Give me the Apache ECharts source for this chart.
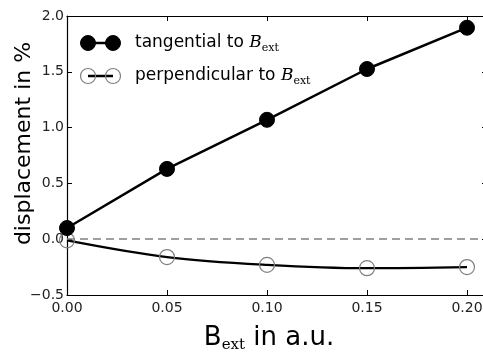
<!DOCTYPE html>
<html>
<head>
<meta charset="utf-8">
<script src="https://cdn.jsdelivr.net/npm/echarts@6/dist/echarts.min.js"></script>
<style>
  html, body { margin: 0; padding: 0; background: #fff; }
  #chart { width: 483px; height: 354px; }
</style>
</head>
<body>
<div id="chart"></div>
<script>
// Field strength (a.u.) and the measured displacement (%) in both directions
const bExt = [0.00, 0.05, 0.10, 0.15, 0.20];
const tangential = [0.10, 0.63, 1.07, 1.525, 1.895];
const perpendicular = [-0.01, -0.16, -0.23, -0.26, -0.25];
const xTicks = [0.00, 0.05, 0.10, 0.15, 0.20];
const yTicks = [-0.5, 0.0, 0.5, 1.0, 1.5, 2.0];

const SANS = 'DejaVu Sans';
const SERIF = 'DejaVu Serif';
const tickFont = { fontFamily: SANS, fontSize: 14, color: '#222' };

function pairs(ys) { return bExt.map((x, i) => [x, ys[i]]); }
function fmtY(v) { return (v < 0 ? '\u2212' : '') + Math.abs(v).toFixed(1); }

const chart = echarts.init(document.getElementById('chart'), null, { renderer: 'canvas' });

const inTicks = { show: true, inside: true, length: 5, lineStyle: { color: '#000', width: 1 } };
const spine = { show: true, onZero: false, lineStyle: { color: '#000', width: 1.2 } };

function legendRow(y, filled, parts) {
  const mk = (cx) => ({
    type: 'circle',
    shape: { cx: cx, cy: y, r: 7.5 },
    style: filled ? { fill: '#000', stroke: '#000', lineWidth: 1 }
                  : { fill: 'none', stroke: '#808080', lineWidth: 1.2 }
  });
  return [
    { type: 'line', shape: { x1: 88, y1: y, x2: 113, y2: y }, style: { stroke: '#000', lineWidth: 2.5 } },
    mk(88), mk(113),
    {
      type: 'text', x: 135, y: y,
      style: {
        text: parts, verticalAlign: 'middle', fill: '#000',
        rich: {
          n: { fontFamily: SANS, fontSize: 17, color: '#000', lineHeight: 24 },
          b: { fontFamily: SERIF, fontStyle: 'italic', fontSize: 17, color: '#000', lineHeight: 24 },
          s: { fontFamily: SERIF, fontSize: 11, color: '#000', lineHeight: 24, padding: [10, 0, 0, 0] }
        }
      }
    }
  ];
}

chart.setOption({
  animation: false,
  backgroundColor: '#fff',
  grid: { left: 67, top: 16, right: -4, bottom: 59, containLabel: false, outerBoundsMode: 'none' },
  xAxis: [
    {
      type: 'value', min: 0, max: 0.21, interval: 0.05,
      name: '{b|B}{s|ext}{t| in a.u.}',
      nameLocation: 'middle', nameGap: 28, nameMoveOverlap: false,
      nameTextStyle: {
        padding: [0, 16, 0, 0],
        rich: {
          b: { fontFamily: SANS, fontSize: 26, color: '#000', lineHeight: 30 },
          s: { fontFamily: SERIF, fontSize: 15, color: '#000', lineHeight: 30, padding: [14, 0, 0, 0] },
          t: { fontFamily: SANS, fontSize: 26, color: '#000', lineHeight: 30 }
        }
      },
      axisLine: spine, axisTick: inTicks,
      axisLabel: Object.assign({ margin: 6, showMaxLabel: false, formatter: v => v.toFixed(2) }, tickFont),
      splitLine: { show: false }
    },
    {
      type: 'value', position: 'top', min: 0, max: 0.21, interval: 0.05,
      axisLine: spine, axisTick: inTicks, axisLabel: { show: false }, splitLine: { show: false }
    }
  ],
  yAxis: [
    {
      type: 'value', min: yTicks[0], max: yTicks[yTicks.length - 1], interval: 0.5,
      name: 'displacement in %',
      nameLocation: 'middle', nameGap: 32, nameMoveOverlap: false,
      nameTextStyle: { fontFamily: SANS, fontSize: 22, color: '#000', padding: [0, 0, 0, 24] },
      axisLine: spine, axisTick: inTicks,
      axisLabel: Object.assign({ margin: 3, formatter: fmtY }, tickFont),
      splitLine: { show: false }
    },
    {
      type: 'value', position: 'right', min: yTicks[0], max: yTicks[yTicks.length - 1], interval: 0.5,
      axisLine: spine, axisTick: inTicks, axisLabel: { show: false }, splitLine: { show: false }
    }
  ],
  series: [
    {
      name: 'perpendicular', type: 'line', data: pairs(perpendicular),
      smooth: 0.35, z: 2,
      lineStyle: { color: '#000', width: 2.3 },
      symbol: 'circle', symbolSize: 15,
      itemStyle: { color: 'rgba(0,0,0,0)', borderColor: '#808080', borderWidth: 1.2 },
      markLine: {
        silent: true, symbol: 'none', label: { show: false },
        lineStyle: { color: '#808080', width: 1.6, type: [8, 5] },
        data: [{ yAxis: 0 }]
      }
    },
    {
      name: 'tangential', type: 'line', data: pairs(tangential), z: 3,
      lineStyle: { color: '#000', width: 2.5 },
      symbol: 'circle', symbolSize: 15,
      itemStyle: { color: '#000', borderColor: '#000', borderWidth: 1 }
    }
  ],
  graphic: [].concat(
    legendRow(43, true, '{n|tangential to }{b|B}{s|ext}'),
    legendRow(76, false, '{n|perpendicular to }{b|B}{s|ext}')
  )
});
</script>
</body>
</html>
